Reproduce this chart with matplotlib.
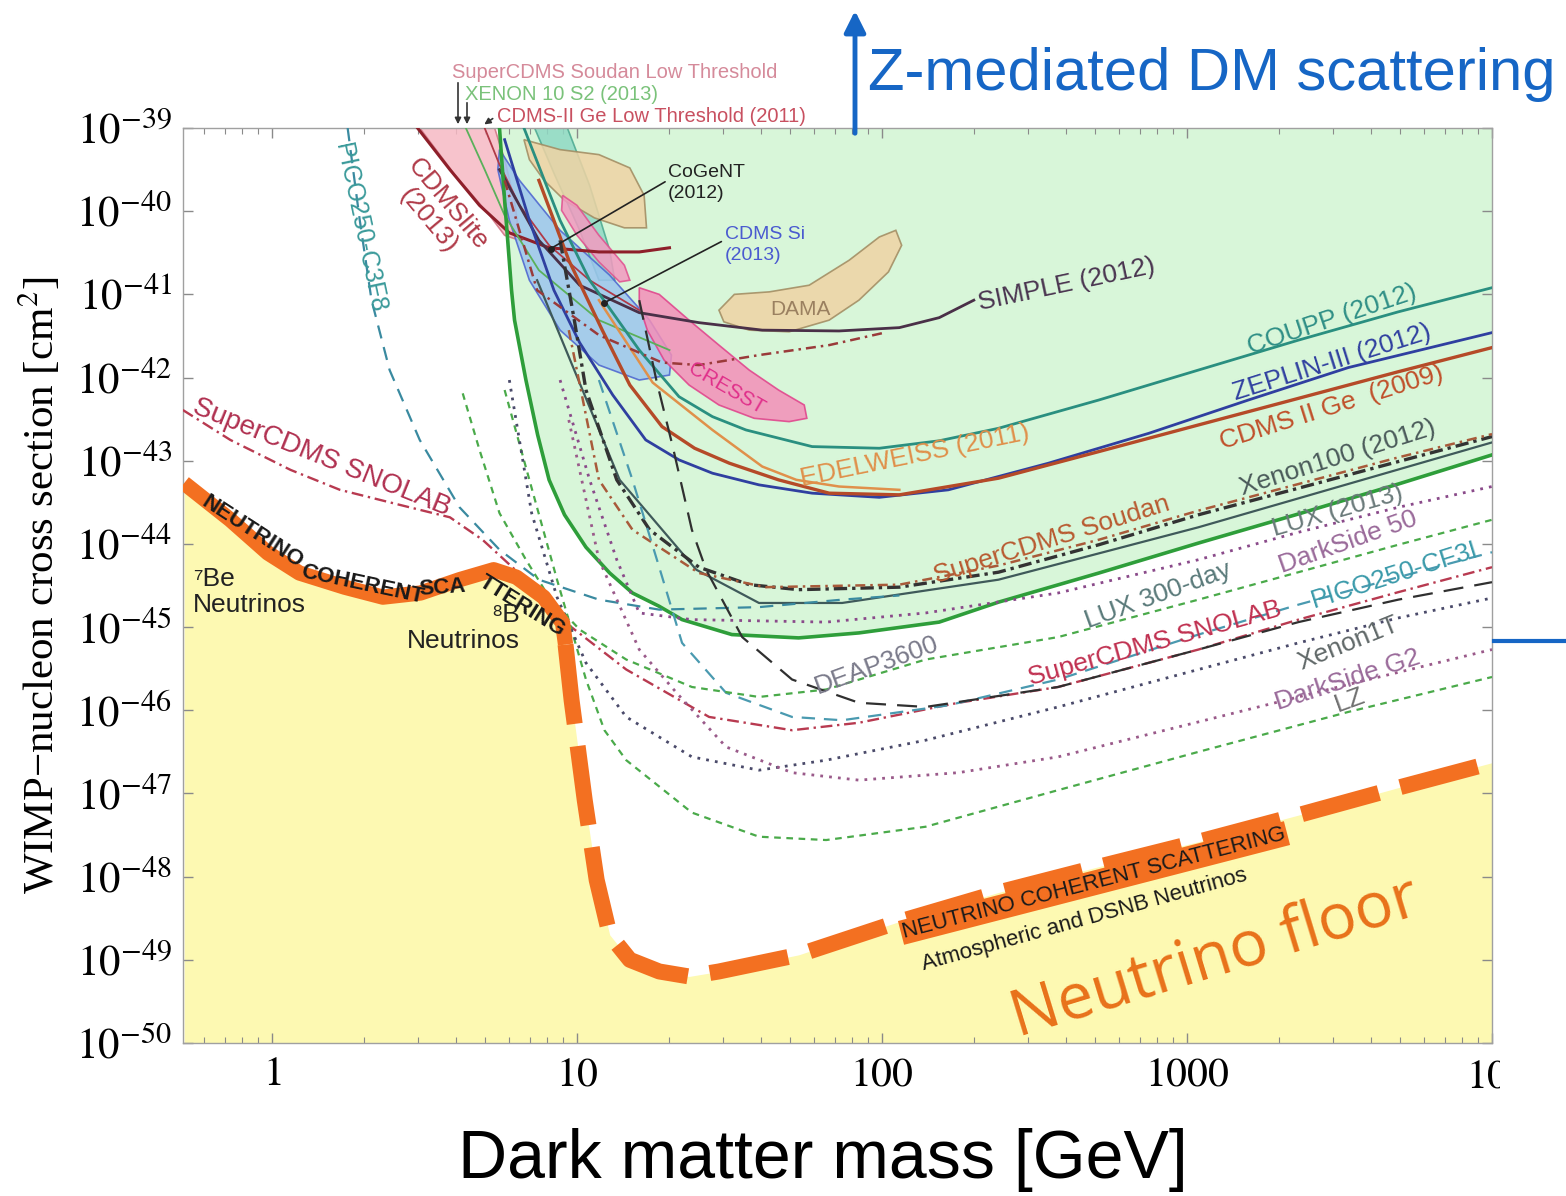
import matplotlib
matplotlib.use("Agg")
import matplotlib.pyplot as plt
import numpy as np
from matplotlib.patches import Rectangle, FancyArrowPatch
from matplotlib.lines import Line2D
from matplotlib.ticker import NullLocator, LogLocator, NullFormatter

plt.rcParams['mathtext.fontset'] = 'stix'
plt.rcParams['font.family'] = ['Liberation Sans', 'DejaVu Sans']

W, H = 1566, 1196

# masses in GeV, cross sections as log10(sigma / cm^2)
floor_m = [0.515, 0.73, 0.97, 1.23, 1.73, 2.31, 3.07, 4.12, 5.33, 6.33, 7.77, 8.97, 9.17, 9.6,
           10.6, 11.6, 12.8, 14.9, 18.6, 23.3, 29.2, 53.3, 114, 241, 514, 1090, 2320, 4930, 10000]
floor_s = [-43.27, -43.71, -44.11, -44.35, -44.52, -44.64, -44.59, -44.43, -44.31, -44.40, -44.64,
           -44.95, -45.21, -45.88, -47.08, -48.04, -48.70, -49.00, -49.14, -49.20, -49.14, -48.94,
           -48.54, -48.19, -47.88, -47.58, -47.26, -46.93, -46.63]

lux_m = [5.57, 5.79, 6.1, 6.24, 6.8, 7.43, 8.1, 9.1, 10.7, 12.8, 15.2, 18.6, 22.1, 32.2, 53.3, 84,
         154, 241, 514, 1090, 2320, 4930, 10000]
lux_s = [-39.0, -39.87, -40.95, -41.31, -42.03, -42.69, -43.23, -43.65, -44.04, -44.35, -44.59,
         -44.75, -44.91, -45.09, -45.13, -45.07, -44.94, -44.70, -44.35, -43.99, -43.64, -43.28, -42.93]

coupp_m = [6.7, 8.8, 11.0, 16, 21.6, 27.8, 35.8, 59, 98, 154, 241, 514, 1090, 2320, 4930, 10000]
coupp_s = [-39.0, -40.11, -40.83, -41.67, -42.23, -42.47, -42.63, -42.83, -42.85, -42.76, -42.61,
           -42.27, -41.91, -41.55, -41.21, -40.92]

zeplin_m = [5.79, 6.98, 8.4, 10.2, 13.1, 16.8, 21.6, 27.8, 39.5, 59, 98, 165, 351, 750, 1590, 3380, 10000]
zeplin_s = [-39.14, -40.11, -40.95, -41.58, -42.21, -42.75, -42.99, -43.15, -43.29, -43.39, -43.44,
            -43.35, -43.03, -42.67, -42.27, -41.88, -41.46]

cdms_m = [7.5, 9.4, 12.1, 14.9, 19.0, 24.3, 31.6, 45.8, 67.1, 114, 241, 514, 1090, 2320, 4930, 10000]
cdms_s = [-39.63, -40.59, -41.43, -42.09, -42.59, -42.85, -43.03, -43.23, -43.39, -43.41, -43.21,
          -42.89, -42.57, -42.25, -41.93, -41.64]

edel_m = [11.8, 17.7, 27.8, 40.5, 52.4, 72.3, 114]
edel_s = [-41.07, -42.06, -42.63, -43.07, -43.23, -43.31, -43.35]

simple_m = [5.57, 7.5, 10.2, 16, 25.1, 40.5, 72.3, 114, 154, 200]
simple_s = [-39.50, -40.35, -40.89, -41.22, -41.34, -41.43, -41.44, -41.40, -41.28, -41.07]

xe100_m = [8.8, 9.8, 10.7, 13.5, 17.3, 25.1, 36.7, 53.3, 114, 241, 514, 1090, 2320, 4930, 10000]
xe100_s = [-40.35, -41.31, -42.15, -43.23, -43.83, -44.28, -44.49, -44.55, -44.52, -44.34, -44.01,
           -43.65, -43.33, -43.01, -42.71]

xe100b_m = [7.4, 13.8, 24.6, 39.5, 74, 241, 1090, 10000]
xe100b_s = [-40.83, -43.23, -44.31, -44.71, -44.71, -44.43, -43.80, -42.78]

soudan_m = [9.4, 11.8, 15.2, 25.1, 41.5, 114, 241, 514, 1090, 2320, 4930, 10000]
soudan_s = [-41.43, -43.23, -43.83, -44.35, -44.52, -44.49, -44.26, -43.95, -43.60, -43.28,
            -42.96, -42.68]

soudan_lt_m = [5.79, 7.4, 11.8, 19.0, 25.1, 39.5, 67.1, 102]
soudan_lt_s = [-39.63, -40.95, -41.49, -41.82, -41.85, -41.73, -41.61, -41.46]

cdmslite_m = [3.0, 3.83, 4.79, 6.0, 8.1, 11.8, 16, 20.1]
cdmslite_s = [-39.0, -39.5, -39.93, -40.26, -40.44, -40.49, -40.49, -40.44]

xe10_m = [4.32, 4.98, 5.79, 7.5, 11.8, 20.1]
xe10_s = [-39.0, -39.5, -40.05, -40.71, -41.31, -41.67]

cdms_lt_m = [4.98, 5.57, 6.48, 8.1, 11.0, 16]
cdms_lt_s = [-39.0, -39.44, -39.93, -40.41, -40.83, -41.19]

# projections
snolab_m = [0.51, 0.73, 1.15, 1.67, 2.62, 3.83, 4.9, 6.8, 9.2, 14.5, 27.1, 50.7, 84, 178, 378,
            1090, 2320, 4930, 10000]
snolab_s = [-42.39, -42.75, -43.11, -43.35, -43.53, -43.68, -43.95, -44.43, -44.95, -45.51, -46.08,
            -46.24, -46.15, -45.91, -45.72, -45.27, -44.91, -44.58, -44.28]

c3f8_m = [1.77, 1.94, 2.12, 2.43, 3.05, 4.12, 5.57, 7.5, 11.8, 18.6, 39.5, 74, 114]
c3f8_s = [-39.0, -40.11, -41.07, -41.91, -42.75, -43.56, -44.07, -44.43, -44.67, -44.79, -44.76,
          -44.67, -44.62]

cf3i_m = [11.8, 15.2, 18.6, 22.1, 30.8, 50.7, 74, 165, 378, 1090, 2320, 4930, 10000]
cf3i_s = [-42.03, -43.23, -44.28, -45.19, -45.79, -46.08, -46.12, -45.94, -45.63, -45.09, -44.73,
          -44.40, -44.10]

lux300_m = [4.22, 4.79, 5.57, 6.8, 8.1, 10.2, 14.5, 23.8, 39.5, 65.6, 139, 378, 1090, 2320, 4930, 10000]
lux300_s = [-42.19, -42.87, -43.63, -44.19, -44.64, -45.03, -45.39, -45.72, -45.84, -45.75, -45.39,
            -45.12, -44.67, -44.34, -44.01, -43.71]

ds50_m = [8.8, 11.0, 13.5, 16, 23.8, 65.6, 139, 378, 1090, 2320, 4930, 10000]
ds50_s = [-42.03, -43.23, -44.19, -44.83, -44.91, -44.94, -44.83, -44.59, -44.19, -43.86, -43.56, -43.31]

deap_m = [16, 18.2, 20.6, 23.8, 26.5, 34.8, 50.7, 84, 139, 378, 1090, 2320, 4930, 10000]
deap_s = [-41.07, -42.03, -42.83, -43.83, -44.31, -45.12, -45.63, -45.91, -45.96, -45.72, -45.27,
          -44.94, -44.67, -44.46]

xe1t_m = [6.0, 7.1, 8.6, 10.7, 14.5, 23.8, 39.5, 65.6, 139, 378, 1090, 2320, 4930, 10000]
xe1t_s = [-42.03, -43.63, -44.64, -45.43, -46.08, -46.56, -46.72, -46.60, -46.36, -45.96, -45.51,
          -45.19, -44.89, -44.65]

dsg2_m = [9.4, 11.8, 16, 21.2, 30.8, 50.7, 84, 178, 378, 1090, 3380, 10000]
dsg2_s = [-42.51, -44.19, -45.27, -45.79, -46.44, -46.75, -46.84, -46.75, -46.56, -46.14, -45.69, -45.27]

lz_m = [5.79, 6.98, 8.6, 10.7, 12.3, 14.5, 23.8, 39.5, 65.6, 139, 378, 1090, 3380, 10000]
lz_s = [-42.15, -43.23, -44.43, -45.63, -46.24, -46.60, -47.23, -47.52, -47.56, -47.40, -46.96,
        -46.50, -46.02, -45.60]

# signal regions (closed contours)
pink_m = [3.05, 3.97, 5.17, 5.79, 6.48, 6.24, 5.79, 5.37]
pink_s = [-39.0, -39.56, -40.05, -40.29, -40.35, -39.87, -39.38, -39.0]

cdmssi_m = [5.57, 6.48, 8.8, 12.8, 17.3, 20.4, 20.1, 16, 11.8, 8.8, 6.98, 6.0, 5.5]
cdmssi_s = [-39.26, -39.63, -40.23, -40.77, -41.31, -41.73, -41.97, -42.03, -41.85, -41.43, -40.83,
            -40.11, -39.5]

cogent_m = [6.7, 8.8, 11.8, 14.9, 16.6, 16.9, 14.3, 11.4, 9.1, 7.8, 6.98]
cogent_s = [-39.14, -39.26, -39.32, -39.48, -39.81, -40.20, -40.20, -40.08, -39.87, -39.63, -39.38]

band_m = [7.26, 9.3, 11.0, 12.8, 13.3, 11.8, 10.2, 8.44]
band_s = [-39.0, -39.0, -39.69, -40.47, -40.83, -40.83, -40.23, -39.56]

dama_m = [29.2, 32.8, 42.7, 57.7, 78, 98, 111, 116, 105, 84, 67.1, 49.6, 36.7, 30.3]
dama_s = [-41.19, -41.0, -40.97, -40.89, -40.59, -40.31, -40.23, -40.41, -40.73, -41.07, -41.31,
          -41.45, -41.43, -41.33]

cresst_m = [16, 18.6, 23.3, 29.2, 36.7, 45.8, 55.6, 56.7, 49.6, 38.1, 29.2, 23.3, 19.3, 17.0, 16]
cresst_s = [-40.92, -41.0, -41.31, -41.61, -41.91, -42.15, -42.33, -42.49, -42.53, -42.49, -42.33,
            -42.09, -41.79, -41.43, -41.13]

cresst2_m = [8.97, 10, 11.8, 14.3, 14.9, 13.8, 11.8, 10, 8.9]
cresst2_s = [-39.81, -39.93, -40.29, -40.65, -40.83, -40.85, -40.61, -40.29, -39.99]


def lg(a):
    return 10.0 ** np.asarray(a, dtype=float)


def fx(px):
    return px / W


def fy(py):
    return 1 - py / H


fig = plt.figure(figsize=(W / 100, H / 100), dpi=100)
ax = fig.add_axes([fx(183), fy(1043), (1492 - 183) / W, (1043 - 128) / H])
ax.set_xscale('log')
ax.set_yscale('log')
ax.set_xlim(0.5107, 1e4)
ax.set_ylim(1e-50, 1e-39)

# background regions
ax.fill_between(floor_m, 1e-50, lg(floor_s), color='#fdf9b2', lw=0, zorder=1)
ax.fill_between(lux_m, lg(lux_s), 1e-39, color='#d8f6d9', lw=0, zorder=1)

regions = [
    (band_m, band_s, '#8fd9c4', '#4aa890'),
    (pink_m, pink_s, '#f6b9c3', '#d07080'),
    (cogent_m, cogent_s, '#efd3a4', '#a08a60'),
    (cdmssi_m, cdmssi_s, '#9dc5ee', '#4a62d0'),
    (cresst2_m, cresst2_s, '#f39ac0', '#e0508f'),
    (cresst_m, cresst_s, '#f48fb8', '#e0408a'),
    (dama_m, dama_s, '#efd3a4', '#a08a60'),
]
for m, s, fc, ec in regions:
    ax.fill(m, lg(s), facecolor=fc, edgecolor=ec, lw=1.2, alpha=0.85, zorder=2)

# current limits
solid = [
    (cdmslite_m, cdmslite_s, '#8e1f2a', 2.2),
    (xe10_m, xe10_s, '#5ab05a', 1.3),
    (cdms_lt_m, cdms_lt_s, '#b03a48', 1.3),
    (simple_m, simple_s, '#4a3048', 2.0),
    (coupp_m, coupp_s, '#2a8f80', 2.0),
    (zeplin_m, zeplin_s, '#2f3fa0', 2.0),
    (edel_m, edel_s, '#e0904a', 1.8),
    (cdms_m, cdms_s, '#b54a28', 2.4),
    (xe100b_m, xe100b_s, '#3f5a5a', 1.6),
    (lux_m, lux_s, '#2e9e3a', 2.6),
]
for m, s, c, w in solid:
    ax.plot(m, lg(s), color=c, lw=w, zorder=3, solid_joinstyle='round')

ax.plot(xe100_m, lg(xe100_s), color='#333333', lw=2.4, ls=(0, (4, 1.5, 1, 1.5)), zorder=3)
ax.plot(soudan_m, lg(soudan_s), color='#a85a3a', lw=1.8, ls=(0, (4, 2, 1, 2)), zorder=3)
ax.plot(soudan_lt_m, lg(soudan_lt_s), color='#9a3a3a', lw=1.8, ls=(0, (4, 2, 1, 2)), zorder=3)

# projected sensitivities
proj = [
    (snolab_m, snolab_s, '#b83a50', (0, (5, 2, 1, 2)), 1.7),
    (c3f8_m, c3f8_s, '#3a8aa0', (0, (6, 4)), 1.6),
    (cf3i_m, cf3i_s, '#4a9ab0', (0, (6, 4)), 1.6),
    (lux300_m, lux300_s, '#4aaa4a', (0, (3, 2.5)), 1.6),
    (lz_m, lz_s, '#4aaa4a', (0, (3, 2.5)), 1.6),
    (ds50_m, ds50_s, '#8a4a8a', (0, (1, 2.2)), 2.0),
    (xe1t_m, xe1t_s, '#4a4a6a', (0, (1, 2.2)), 2.0),
    (dsg2_m, dsg2_s, '#9a5a8a', (0, (1, 2.2)), 2.0),
    (deap_m, deap_s, '#303030', (0, (9, 5)), 1.6),
]
for m, s, c, ls, w in proj:
    ax.plot(m, lg(s), color=c, lw=w, ls=ls, zorder=3)

# neutrino floor: solid band at low mass, thick dashes above
fm = np.array(floor_m)
fs = lg(floor_s)
low = fm <= 9.17
high = fm >= 9.17
ax.plot(fm[low], fs[low], color='#f37021', lw=11, solid_capstyle='butt',
        solid_joinstyle='round', zorder=4)
ax.plot(fm[high], fs[high], color='#f37021', lw=11.5, ls=(0, (5, 1.4)),
        dash_capstyle='butt', dash_joinstyle='round', zorder=4)

# axes styling
ax.set_xticks([1, 10, 100, 1000, 10000])
ax.set_xticklabels(['$1$', '$10$', '$100$', '$1000$', ''], fontsize=30)
ax.xaxis.set_minor_locator(LogLocator(base=10, subs=np.arange(2, 10)))
ax.xaxis.set_minor_formatter(NullFormatter())
yt = list(range(-50, -38))
ax.set_yticks([10.0 ** k for k in yt])
ax.set_yticklabels([r'$10^{%d}$' % k for k in yt], fontsize=31)
ax.yaxis.set_minor_locator(NullLocator())
ax.tick_params(which='both', direction='in', top=True, right=True, color='#8a8a8a')
ax.tick_params(which='major', length=7, width=1, pad=8)
ax.tick_params(which='minor', length=4, width=0.8)
for sp in ax.spines.values():
    sp.set_color('#a0a0a0')
    sp.set_linewidth(1.0)


def put(px, py, s, **kw):
    kw.setdefault('ha', 'center')
    kw.setdefault('va', 'center')
    kw.setdefault('rotation_mode', 'anchor')
    return fig.text(fx(px), fy(py), s, **kw)


# labels on the limit curves
put(1067, 285, 'SIMPLE (2012)', rotation=12, color='#4a3550', fontsize=19)
put(1332, 320, 'COUPP (2012)', rotation=18.5, color='#2f8f86', fontsize=19)
put(1332, 362, 'ZEPLIN-III (2012)', rotation=17.5, color='#3040a0', fontsize=19)
put(1332, 408, 'CDMS II Ge  (2009)', rotation=17.5, color='#c0502a', fontsize=19)
put(915, 456, 'EDELWEISS (2011)', rotation=11.6, color='#e0904a', fontsize=19)
put(1338, 458, 'Xenon100 (2012)', rotation=17.5, color='#4a5a5a', fontsize=19)
put(1052, 540, 'SuperCDMS Soudan', rotation=17.4, color='#b85a30', fontsize=19)
put(1338, 511, 'LUX (2013)', rotation=16, color='#6a7a7a', fontsize=19)
put(1348, 542, 'DarkSide 50', rotation=19.5, color='#9a6a9a', fontsize=19)
put(1158, 595, 'LUX 300-day', rotation=20, color='#5a7a7a', fontsize=19)
put(1155, 643, 'SuperCDMS SNOLAB', rotation=15.5, color='#c03050', fontsize=19)
put(1395, 575, 'PICO250-CF3I', rotation=17.5, color='#3a9aaa', fontsize=19)
put(877, 665, 'DEAP3600', rotation=20, color='#7a7a8a', fontsize=19)
put(1348, 643, 'Xenon1T', rotation=22, color='#606868', fontsize=19)
put(1348, 680, 'DarkSide G2', rotation=18, color='#9a6a9a', fontsize=19)
put(1350, 700, 'LZ', rotation=20, color='#707070', fontsize=19)
put(727, 388, 'CRESST', rotation=-30, color='#e0308a', fontsize=15)
put(800, 310, 'DAMA', color='#9a8060', fontsize=15)
put(668, 183, 'CoGeNT\n(2012)', ha='left', color='#222222', fontsize=14, linespacing=1.25)
put(725, 245, 'CDMS Si\n(2013)', ha='left', color='#4a5ad0', fontsize=14, linespacing=1.25)
put(438, 212, 'CDMSlite\n(2013)', rotation=-50, color='#b03a48', fontsize=19, linespacing=1.1)
put(360, 228, 'PICO250-C3F8', rotation=-78, color='#3a9a9a', fontsize=18)
put(322, 458, 'SuperCDMS SNOLAB', rotation=-22, color='#b03050', fontsize=20)

# pointers from the region labels
ax.annotate('', xy=(8.2, 10 ** -40.45), xytext=(19.8, 10 ** -39.63),
            arrowprops=dict(arrowstyle='-', color='#222222', lw=1.2), zorder=5)
ax.plot([8.2], [10 ** -40.45], 'o', color='#222222', ms=4, zorder=5)
ax.annotate('', xy=(12.3, 10 ** -41.10), xytext=(30.3, 10 ** -40.35),
            arrowprops=dict(arrowstyle='-', color='#222222', lw=1.2), zorder=5)
ax.plot([12.3], [10 ** -41.10], 'o', color='#222222', ms=4, zorder=5)

# texts on the neutrino floor
put(252, 532, 'NEUTRINO', rotation=-33, color='#1a1a1a', fontsize=16, fontweight='bold')
put(362, 585, 'COHERENT', rotation=-12, color='#1a1a1a', fontsize=16, fontweight='bold')
put(442, 588, 'SCA', rotation=4, color='#1a1a1a', fontsize=16, fontweight='bold')
put(522, 606, 'TTERING', rotation=-32, color='#1a1a1a', fontsize=16, fontweight='bold')
put(193, 592, '⁷Be\nNeutrinos', ha='left', color='#222222', fontsize=19, linespacing=1.1)
put(520, 628, '⁸B\nNeutrinos', ha='right', multialignment='right', color='#222222',
    fontsize=19, linespacing=1.1)
put(1094, 883, 'NEUTRINO COHERENT SCATTERING', rotation=14.5, color='#1a1a1a', fontsize=16,
    bbox=dict(boxstyle='square,pad=0.08', facecolor='#f37021', edgecolor='none'))
put(1084, 920, 'Atmospheric and DSNB Neutrinos', rotation=15.5, color='#1a1a1a', fontsize=16)
put(1215, 958, 'Neutrino floor', rotation=17, color='#e8711a', fontsize=46,
    family=['Open Sans', 'Liberation Sans'])

# labels above the frame
put(452, 72, 'SuperCDMS Soudan Low Threshold', ha='left', color='#d58a9a', fontsize=14.5)
put(465, 95, 'XENON 10 S2 (2013)', ha='left', color='#7ac27a', fontsize=14.5)
put(497, 117, 'CDMS-II Ge Low Threshold (2011)', ha='left', color='#c85060', fontsize=14.5)
for x0, y0, x1, y1 in [(458, 80, 458, 127), (467, 100, 467, 127), (495, 117, 482, 126)]:
    fig.add_artist(FancyArrowPatch((fx(x0), fy(y0)), (fx(x1), fy(y1)), transform=fig.transFigure,
                                   arrowstyle='-|>', mutation_scale=9, lw=1.2, color='#333333'))

# last x tick label, cut at the right edge
put(1466, 1076, '$10000$', ha='left', fontsize=30)
fig.add_artist(Rectangle((fx(1500), fy(1115)), fx(1566) - fx(1500), fy(1045) - fy(1115),
                         transform=fig.transFigure, facecolor='white', edgecolor='none', zorder=10))

# axis titles
fig.text(fx(40), fy(585), 'WIMP−nucleon cross section [cm$^2$]', rotation=90, ha='center',
         va='center', fontsize=31, family=['Liberation Serif', 'DejaVu Serif'])
put(823, 1160, 'Dark matter mass [GeV]', color='black', fontsize=49)

# Z-mediated annotation
blue = '#1666c5'
fig.add_artist(FancyArrowPatch((fx(855), fy(136)), (fx(855), fy(8)), transform=fig.transFigure,
                               arrowstyle='-|>', mutation_scale=32, lw=3.5, color=blue))
put(868, 75, 'Z-mediated DM scattering', ha='left', color=blue, fontsize=43)
fig.add_artist(Line2D([fx(1494), fx(1566)], [fy(641), fy(641)], transform=fig.transFigure,
                      color=blue, lw=3))

fig.savefig('out.png', dpi=100, facecolor='white')
